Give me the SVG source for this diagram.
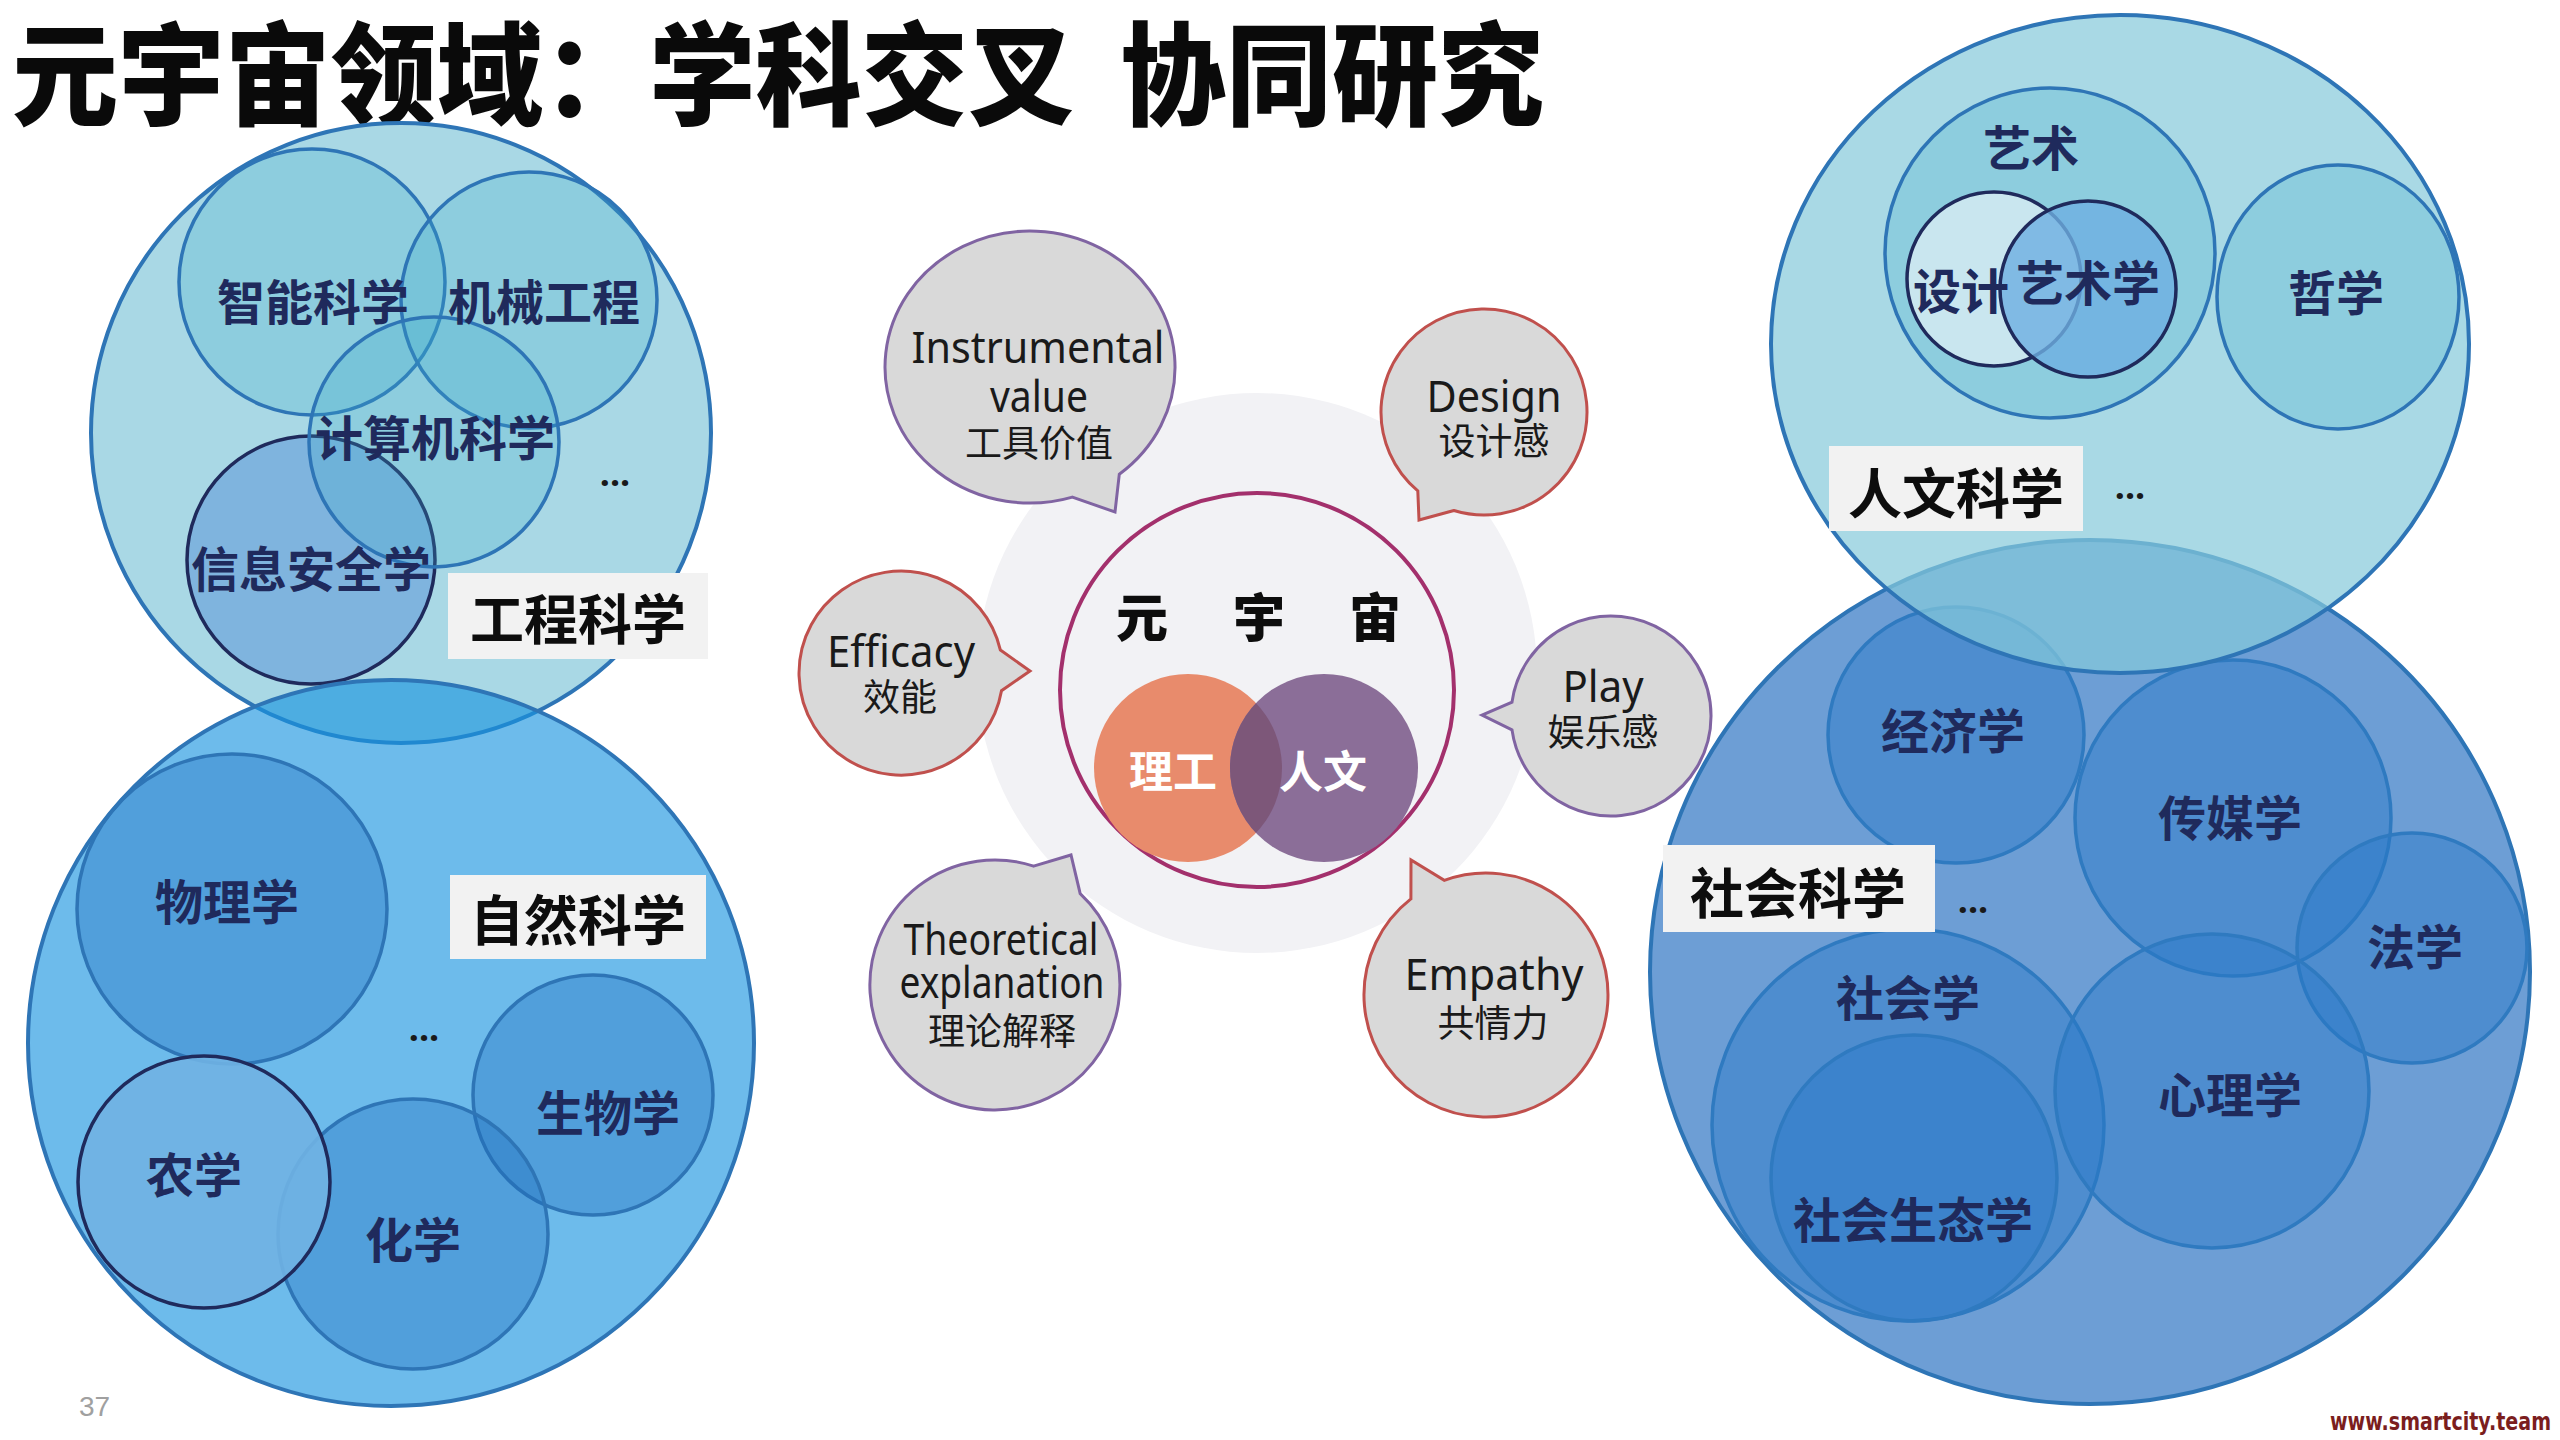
<svg xmlns="http://www.w3.org/2000/svg" width="2560" height="1440" viewBox="0 0 2560 1440">
<defs>
<style>
.big{stroke:#2E75B6;stroke-width:4}
.inA{fill:rgb(60,170,205);fill-opacity:0.25;stroke:#2E75B6;stroke-width:3.5}
.inB{fill:rgb(30,110,190);fill-opacity:0.35;stroke:#2E75B6;stroke-width:3.5}
.inC{fill:rgb(40,120,200);fill-opacity:0.45;stroke:#2F7AC0;stroke-width:3.5}
.navy{stroke:#1F2A5C;stroke-width:3.5}
.lbl{font-family:'Noto Sans CJK SC',sans-serif;font-weight:700;font-size:48px;fill:#1F2A5C;text-anchor:middle;dominant-baseline:central}
.box{fill:#F2F2F2}
.boxt{font-family:'Noto Sans CJK SC',sans-serif;font-weight:700;font-size:54px;fill:#0D0D0D;text-anchor:middle;dominant-baseline:central}
.dots{font-family:'Noto Sans',sans-serif;font-weight:700;font-size:36px;fill:#1A1A1A;text-anchor:middle}
.bub{fill:#D9D9D9;stroke-width:3;stroke-linejoin:miter}
.bp{stroke:#8064A2}
.br{stroke:#C0504D}
.en{font-family:'Noto Sans','Noto Sans CJK SC',sans-serif;font-size:44px;fill:#1A1A1A;text-anchor:middle}
.cn{font-family:'Noto Sans CJK SC',sans-serif;font-size:37px;fill:#1A1A1A;text-anchor:middle}
.ctr{font-family:'Noto Sans CJK SC',sans-serif;font-weight:900;font-size:52px;fill:#0D0D0D;text-anchor:middle}
.vt{font-family:'Noto Sans CJK SC',sans-serif;font-weight:700;font-size:44px;fill:#FFFFFF;text-anchor:middle;dominant-baseline:central}
.ttl{font-family:'Noto Sans CJK SC',sans-serif;font-weight:900;font-size:112px;fill:#0A0A0A}
</style>
<clipPath id="clipOr"><circle cx="1188" cy="768" r="94"/></clipPath>
</defs>
<rect width="2560" height="1440" fill="#FFFFFF"/>

<g id="title">
<text class="ttl" x="12" y="117" textLength="1062" lengthAdjust="spacingAndGlyphs">元宇宙领域：学科交叉</text>
<text class="ttl" x="1120" y="117" textLength="424" lengthAdjust="spacingAndGlyphs">协同研究</text>
</g>

<g id="engineering">
<circle class="big" cx="401" cy="433" r="310" fill="#A9D8E5"/>
<circle class="inA" cx="312" cy="282" r="133"/>
<circle class="inA" cx="529" cy="300" r="128"/>
<circle class="navy" cx="311" cy="560" r="124" fill="#7FB4DE"/>
<circle class="inA" cx="434" cy="442" r="125"/>
<text class="lbl" x="313" y="299">智能科学</text>
<text class="lbl" x="544" y="299">机械工程</text>
<text class="lbl" x="435" y="435">计算机科学</text>
<text class="lbl" x="311" y="566">信息安全学</text>
<text class="dots" x="615" y="486">...</text>
<rect class="box" x="448" y="573" width="260" height="86"/>
<text class="boxt" x="578" y="616">工程科学</text>
</g>

<g id="natural">
<circle class="big" cx="391" cy="1043" r="363" fill="rgb(24,148,224)" fill-opacity="0.63"/>
<circle class="inB" cx="232" cy="909" r="155"/>
<circle class="inB" cx="593" cy="1095" r="120"/>
<circle class="inB" cx="413" cy="1234" r="135"/>
<circle class="navy" cx="204" cy="1182" r="126" fill="#70B2E3" fill-opacity="0.9"/>
<text class="lbl" x="227" y="899">物理学</text>
<text class="lbl" x="608" y="1110">生物学</text>
<text class="lbl" x="194" y="1172">农学</text>
<text class="lbl" x="413" y="1237">化学</text>
<text class="dots" x="424" y="1041">...</text>
<rect class="box" x="450" y="875" width="256" height="84"/>
<text class="boxt" x="578" y="917">自然科学</text>
</g>

<g id="metaverse">
<circle cx="1257" cy="673" r="280" fill="#F2F2F5"/>
<circle cx="1257" cy="690" r="197" fill="#F2F2F5" stroke="#A3306C" stroke-width="4"/>
<text class="ctr" x="1142" y="637">元</text>
<text class="ctr" x="1259" y="637">宇</text>
<text class="ctr" x="1375" y="637">宙</text>
<circle cx="1188" cy="768" r="94" fill="#E88B6C"/>
<circle cx="1324" cy="768" r="94" fill="#8B6E98"/>
<circle cx="1324" cy="768" r="94" fill="#7D5779" clip-path="url(#clipOr)"/>
<text class="vt" x="1173" y="769">理工</text>
<text class="vt" x="1323" y="769">人文</text>
</g>

<g id="bubble-instrumental">
<path class="bub bp" d="M1072.4 497.1 L1115 512 L1119.3 474.2 A145 136 0 1 0 1072.4 497.1 Z"/>
<text class="en" x="1038" y="363" textLength="253" lengthAdjust="spacingAndGlyphs">Instrumental</text>
<text class="en" x="1039" y="412" textLength="98" lengthAdjust="spacingAndGlyphs">value</text>
<text class="cn" x="1039" y="457">工具价值</text>
</g>
<g id="bubble-design">
<path class="bub br" d="M1453.9 510.5 L1419 520 L1417.8 490.9 A103 103 0 1 1 1453.9 510.5 Z"/>
<text class="en" x="1494" y="412" textLength="135" lengthAdjust="spacingAndGlyphs">Design</text>
<text class="cn" x="1494" y="455">设计感</text>
</g>
<g id="bubble-efficacy">
<path class="bub br" d="M1000.4 650.1 L1030 671 L1001.5 690.7 A102 102 0 1 1 1000.4 650.1 Z"/>
<text class="en" x="901" y="667" textLength="148" lengthAdjust="spacingAndGlyphs">Efficacy</text>
<text class="cn" x="900" y="711">效能</text>
</g>
<g id="bubble-play">
<path class="bub bp" d="M1512 729.9 L1482 715 L1512 702.1 A100 100 0 1 1 1512 729.9 Z"/>
<text class="en" x="1603" y="702" textLength="81" lengthAdjust="spacingAndGlyphs">Play</text>
<text class="cn" x="1603" y="746">娱乐感</text>
</g>
<g id="bubble-theoretical">
<path class="bub bp" d="M1033.6 866.1 L1071 855 L1080.2 893.6 A125 125 0 1 1 1033.6 866.1 Z"/>
<text class="en" x="1001" y="955" font-size="38" textLength="195" lengthAdjust="spacingAndGlyphs">Theoretical</text>
<text class="en" x="1002" y="998" font-size="38" textLength="205" lengthAdjust="spacingAndGlyphs">explanation</text>
<text class="cn" x="1002" y="1045">理论解释</text>
</g>
<g id="bubble-empathy">
<path class="bub br" d="M1410.9 898.9 L1411 860 L1444.3 880.4 A122 122 0 1 1 1410.9 898.9 Z"/>
<text class="en" x="1494" y="990" textLength="179" lengthAdjust="spacingAndGlyphs">Empathy</text>
<text class="cn" x="1493" y="1037">共情力</text>
</g>

<g id="social">
<ellipse class="big" cx="2090" cy="972" rx="440" ry="432" fill="#6D9ED5"/>
<circle class="inC" cx="1956" cy="735" r="128"/>
<circle class="inC" cx="2233" cy="818" r="158"/>
<circle class="inC" cx="2412" cy="948" r="115"/>
<circle class="inC" cx="1908" cy="1125" r="196"/>
<circle class="inC" cx="1914" cy="1178" r="143"/>
<circle class="inC" cx="2212" cy="1091" r="157"/>
<text class="lbl" x="1953" y="728">经济学</text>
<text class="lbl" x="2230" y="815">传媒学</text>
<text class="lbl" x="2415" y="944">法学</text>
<text class="lbl" x="1908" y="995">社会学</text>
<text class="lbl" x="1913" y="1217">社会生态学</text>
<text class="lbl" x="2230" y="1092">心理学</text>
<text class="dots" x="1973" y="913">...</text>
<rect class="box" x="1663" y="845" width="272" height="87"/>
<text class="boxt" x="1798" y="890">社会科学</text>
</g>

<g id="humanities">
<ellipse class="big" cx="2120" cy="344" rx="349" ry="329" fill="rgb(134,201,218)" fill-opacity="0.71"/>
<circle class="inA" cx="2050" cy="253" r="165"/>
<ellipse class="inA" cx="2338" cy="297" rx="121" ry="132"/>
<circle class="navy" cx="1994" cy="279" r="87" fill="#C9E6EF"/>
<circle class="navy" cx="2088" cy="289" r="88" fill="rgb(110,175,225)" fill-opacity="0.8"/>
<text class="lbl" x="2031" y="145" font-size="46">艺术</text>
<text class="lbl" x="1961" y="288" font-size="36">设计</text>
<text class="lbl" x="2088" y="280" font-size="36">艺术学</text>
<text class="lbl" x="2336" y="290">哲学</text>
<rect class="box" x="1829" y="446" width="254" height="85"/>
<text class="boxt" x="1956" y="490">人文科学</text>
<text class="dots" x="2130" y="499">...</text>
</g>

<g id="connectors"/>

<g id="footer">
<text x="79" y="1416" font-family="'Liberation Sans',sans-serif" font-size="28" fill="#A0A0A0">37</text>
<text x="2330" y="1430" font-family="'DejaVu Sans',sans-serif" font-weight="700" font-size="24" fill="#7B1E1E" textLength="221" lengthAdjust="spacingAndGlyphs">www.smartcity.team</text>
</g>
</svg>
